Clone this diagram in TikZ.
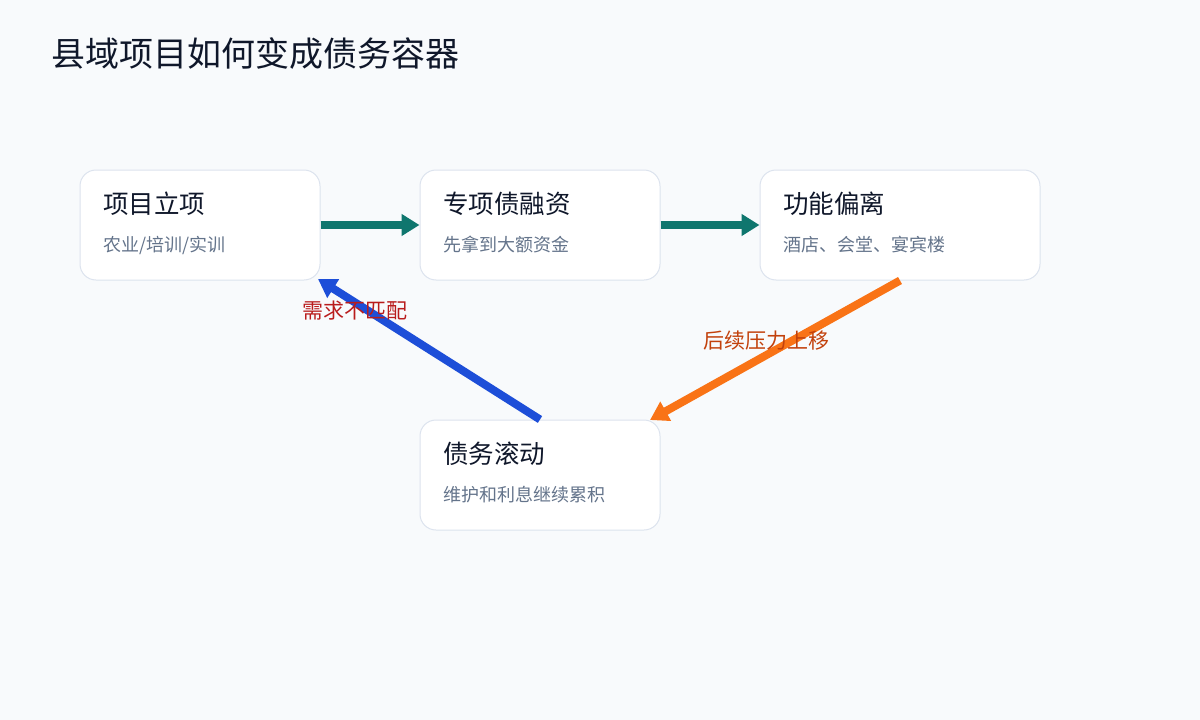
\documentclass[tikz,border=0pt]{standalone}
\usepackage{fontspec}
\setmainfont{Noto Sans CJK SC}
\usetikzlibrary{arrows.meta,positioning}
\definecolor{bgpage}{HTML}{F8FAFC}
\definecolor{boxline}{HTML}{DCE3EE}
\definecolor{ink}{HTML}{0F172A}
\definecolor{subink}{HTML}{64748B}
\definecolor{teal}{HTML}{0F766E}
\definecolor{bluearr}{HTML}{1D4ED8}
\definecolor{orangearr}{HTML}{F97316}
\definecolor{redlabel}{HTML}{B91C1C}
\definecolor{orangelabel}{HTML}{C2410C}
\tikzset{
  card/.style={draw=boxline, line width=1pt, fill=white, rounded corners=16pt,
    minimum width=240pt, minimum height=110pt, inner sep=0pt},
  cardtitle/.style={anchor=west, inner sep=0pt, text=ink, font=\fontsize{25.5}{30}\selectfont},
  cardsub/.style={anchor=west, inner sep=0pt, text=subink, font=\fontsize{18}{21}\selectfont},
  flow/.style={line width=8pt, -{Triangle[length=18pt,width=21pt]}},
  flowlabel/.style={inner sep=0pt, font=\fontsize{21}{24}\selectfont}
}
\begin{document}
\begin{tikzpicture}[x=1pt, y=-1pt]
\fill[bgpage] (0,0) rectangle (1200,720);
\useasboundingbox (0,0) rectangle (1200,720);
\node[anchor=west, inner sep=0pt, text=ink, font=\fontsize{34}{40}\selectfont] (title) at (51,54) {县域项目如何变成债务容器};

% the four stages
\node[card] (start) at (200,225) {};
\node[card] (bond) at (540,225) {};
\node[card, minimum width=280pt] (drift) at (900,225) {};
\node[card] (roll) at (540,475) {};

\node[cardtitle] (startT) at (103,204) {项目立项};
\node[cardsub] (startS) at (103,245) {农业/培训/实训};
\node[cardtitle] (bondT) at (443,204) {专项债融资};
\node[cardsub] (bondS) at (443,245) {先拿到大额资金};
\node[cardtitle] (driftT) at (783,204) {功能偏离};
\node[cardsub] (driftS) at (783,245) {酒店、会堂、宴宾楼};
\node[cardtitle] (rollT) at (443,454) {债务滚动};
\node[cardsub] (rollS) at (443,495) {维护和利息继续累积};

% connectors
\draw[flow, teal] (start.east) -- (bond.west);
\draw[flow, teal] (bond.east) -- (drift.west);
\coordinate (rollNE) at (650,420);
\coordinate (startSE) at (318,279);
\draw[flow, orangearr] (drift.south) -- (rollNE);
\draw[flow, bluearr] (roll.north) -- (startSE);

\node[flowlabel, text=redlabel] (mismatch) at (355,311) {需求不匹配};
\node[flowlabel, text=orangelabel] (shift) at (766,341) {后续压力上移};
\end{tikzpicture}
\end{document}
